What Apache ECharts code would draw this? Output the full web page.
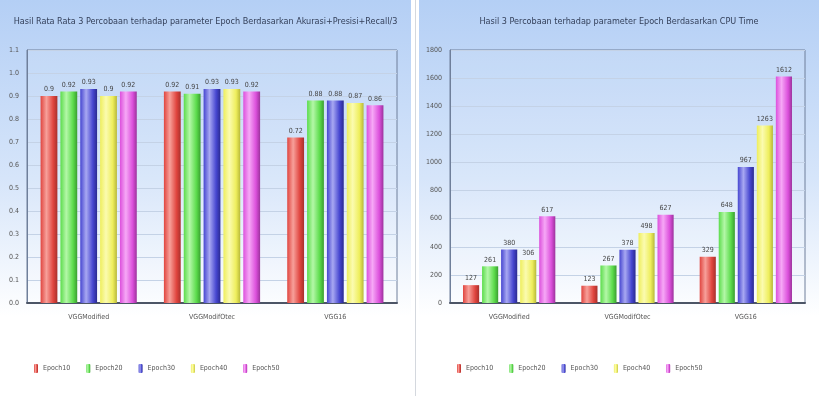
<!DOCTYPE html>
<html>
<head>
<meta charset="utf-8">
<script src="https://cdn.jsdelivr.net/npm/echarts@6/dist/echarts.min.js"></script>
<style>
  html, body { margin: 0; padding: 0; background: #fff; }
  .panel { position: absolute; top: 0; height: 396px;
    background: linear-gradient(to bottom, #b4cff5 0%, #d6e5fa 45%, #ffffff 80%, #ffffff 100%); }
  #left { left: 0; width: 411px; }
  #right { left: 419px; width: 400px; }
  #sep { position: absolute; left: 415px; top: 0; width: 1px; height: 396px; background: #d4d8de; }
</style>
</head>
<body>
<div id="left" class="panel"></div>
<div id="sep"></div>
<div id="right" class="panel"></div>
<script>
// data
var models = ['VGGModified', 'VGGModifOtec', 'VGG16'];
var epochs = ['Epoch10', 'Epoch20', 'Epoch30', 'Epoch40', 'Epoch50'];

// akurasi+presisi+recall / 3
var acc10 = [0.90, 0.92, 0.72];
var acc20 = [0.92, 0.91, 0.88];
var acc30 = [0.93, 0.93, 0.88];
var acc40 = [0.90, 0.93, 0.87];
var acc50 = [0.92, 0.92, 0.86];

// cpu time
var cpu10 = [127, 123, 329];
var cpu20 = [261, 267, 648];
var cpu30 = [380, 378, 967];
var cpu40 = [306, 498, 1263];
var cpu50 = [617, 627, 1612];

var colors = [
  ['#f7a09a', '#e0453f', '#a8302c'],
  ['#b4f7a8', '#5cdc4c', '#3a9e30'],
  ['#a8a8f2', '#4646d0', '#2a2a90'],
  ['#fbfbb0', '#eeee5c', '#b8b83a'],
  ['#f6a8f6', '#dc50dc', '#9c329c']
];

function grad(c) {
  return new echarts.graphic.LinearGradient(0, 0, 1, 0, [
    { offset: 0, color: c[1] },
    { offset: 0.35, color: c[0] },
    { offset: 0.75, color: c[1] },
    { offset: 1, color: c[2] }
  ]);
}

function makeOption(title, data, yMax, yInt, fmt, gridLeft) {
  return {
    animation: false,
    textStyle: { fontFamily: 'Liberation Sans Narrow, DejaVu Sans Condensed, sans-serif' },
    title: {
      text: title, left: 'center', top: 12,
      textStyle: { fontSize: 9, fontWeight: 'normal', color: '#34405a' }
    },
    legend: {
      data: epochs, left: gridLeft + 2, top: 359, itemWidth: 4, itemHeight: 9, itemGap: 16,
      textStyle: { fontSize: 7, color: '#555' }
    },
    grid: {
      left: gridLeft, right: 14, top: 50, height: 253,
      show: true, borderColor: '#6f7f9a', borderWidth: 1,
      backgroundColor: 'rgba(255,255,255,0.08)'
    },
    xAxis: {
      type: 'category', data: models,
      axisTick: { show: false },
      axisLine: { lineStyle: { color: '#4c5566', width: 2 } },
      axisLabel: { fontSize: 7, color: '#555', margin: 11 }
    },
    yAxis: {
      type: 'value', min: 0, max: yMax, interval: yInt,
      axisLine: { show: true, lineStyle: { color: '#6f7f9a' } },
      axisTick: { show: false },
      axisLabel: { fontSize: 7, color: '#555', formatter: fmt },
      splitLine: { lineStyle: { color: '#c4d2e6' } }
    },
    series: data.map(function (d, i) {
      return {
        name: epochs[i], type: 'bar', data: d,
        barGap: '18%', barCategoryGap: '22%',
        itemStyle: { color: grad(colors[i]) },
        label: { show: true, position: 'top', fontSize: 7, color: '#444', distance: 3, formatter: fmt2(fmt) }
      };
    })
  };
}
function fmt2(fmt) {
  return function (p) { return fmt === null ? String(p.value) : String(p.value); };
}

var left = echarts.init(document.getElementById('left'));
left.setOption(makeOption(
  'Hasil Rata Rata 3 Percobaan terhadap parameter Epoch Berdasarkan Akurasi+Presisi+Recall/3',
  [acc10, acc20, acc30, acc40, acc50], 1.1, 0.1,
  function (v) { return v.toFixed(1); }, 27));

var right = echarts.init(document.getElementById('right'));
right.setOption(makeOption(
  'Hasil 3 Percobaan terhadap parameter Epoch Berdasarkan CPU Time',
  [cpu10, cpu20, cpu30, cpu40, cpu50], 1800, 200,
  function (v) { return String(v); }, 31));
</script>
</body>
</html>
